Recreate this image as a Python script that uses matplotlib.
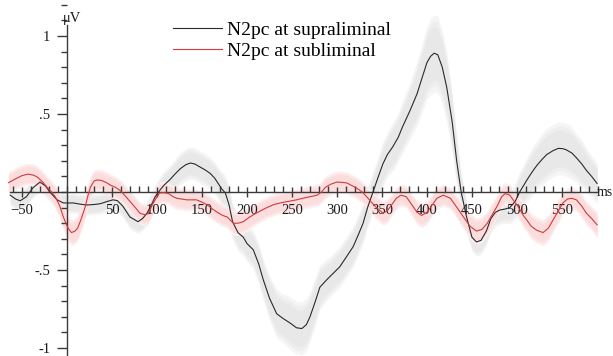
import numpy as np
import matplotlib
matplotlib.use("Agg")
import matplotlib.pyplot as plt
from matplotlib.ticker import MultipleLocator, FixedLocator, FuncFormatter

plt.rcParams['font.family'] = ['Liberation Serif', 'DejaVu Serif']

#----------------------------------------------------
# grand average N2pc waveforms (ms, uV) and standard errors
#----------------------------------------------------
sup_t = [-63, -57, -52, -45, -38, -30, -24, -19, -11, -4,
         7, 15, 22, 30, 37, 45, 51, 56, 62, 70,
         79, 84, 89, 94, 98, 103, 108, 114, 120, 126,
         132, 137, 142, 148, 154, 159, 164, 168, 172, 176,
         180, 184, 190, 196, 200, 207, 213, 218, 225, 233,
         240, 248, 255, 261, 266, 270, 276, 281, 289, 296,
         303, 310, 318, 324, 329, 334, 340, 346, 351, 356,
         362, 368, 373, 381, 389, 395, 400, 404, 408, 412,
         417, 422, 428, 433, 438, 444, 450, 455, 460, 466,
         471, 476, 481, 486, 492, 498, 503, 511, 517, 522,
         528, 533, 540, 546, 551, 555, 561, 566, 572, 577,
         583, 589]
sup_uv = [-0.02, -0.045, -0.056, -0.03, 0.026, 0.064, 0.04, 0.0, -0.05, -0.07,
          -0.07, -0.078, -0.083, -0.08, -0.075, -0.06, -0.05, -0.055, -0.09, -0.16,
          -0.19, -0.17, -0.135, -0.08, -0.03, 0.01, 0.045, 0.077, 0.115, 0.15,
          0.175, 0.186, 0.18, 0.16, 0.14, 0.12, 0.09, 0.055, 0.02, -0.006,
          -0.08, -0.19, -0.26, -0.29, -0.33, -0.37, -0.46, -0.56, -0.68, -0.78,
          -0.81, -0.84, -0.87, -0.875, -0.85, -0.8, -0.7, -0.61, -0.56, -0.52,
          -0.48, -0.42, -0.35, -0.27, -0.2, -0.1, 0.0, 0.1, 0.18, 0.24,
          0.29, 0.35, 0.42, 0.52, 0.63, 0.74, 0.83, 0.87, 0.89, 0.88,
          0.8, 0.67, 0.45, 0.2, 0.0, -0.16, -0.29, -0.32, -0.31, -0.25,
          -0.17, -0.13, -0.115, -0.11, -0.1, -0.06, 0.0, 0.077, 0.13, 0.17,
          0.21, 0.24, 0.265, 0.28, 0.278, 0.27, 0.25, 0.22, 0.18, 0.14,
          0.1, 0.055]
sup_se = [0.05, 0.05, 0.05, 0.05, 0.05, 0.05, 0.05, 0.05, 0.05, 0.05,
          0.05, 0.05, 0.05, 0.05, 0.05, 0.05, 0.05, 0.05, 0.055, 0.06,
          0.06, 0.06, 0.06, 0.06, 0.06, 0.065, 0.07, 0.07, 0.075, 0.08,
          0.08, 0.08, 0.08, 0.08, 0.08, 0.08, 0.08, 0.08, 0.085, 0.085,
          0.09, 0.09, 0.09, 0.09, 0.09, 0.095, 0.1, 0.1, 0.11, 0.12,
          0.12, 0.13, 0.13, 0.13, 0.13, 0.12, 0.12, 0.11, 0.1, 0.1,
          0.1, 0.1, 0.1, 0.1, 0.1, 0.1, 0.1, 0.1, 0.11, 0.11,
          0.12, 0.12, 0.13, 0.14, 0.16, 0.17, 0.18, 0.19, 0.19, 0.19,
          0.18, 0.17, 0.15, 0.12, 0.1, 0.08, 0.07, 0.07, 0.07, 0.07,
          0.07, 0.07, 0.07, 0.07, 0.08, 0.09, 0.1, 0.11, 0.12, 0.12,
          0.13, 0.13, 0.13, 0.13, 0.13, 0.13, 0.13, 0.12, 0.12, 0.11,
          0.1, 0.1]

sub_t = [-65, -57, -50, -43, -37, -33, -27, -22, -17, -13,
         -8, -4, 1, 5, 9, 12, 16, 20, 23, 26,
         30, 33, 38, 44, 48, 54, 59, 64, 70, 76,
         81, 86, 90, 96, 100, 103, 108, 113, 118, 122,
         133, 144, 150, 156, 162, 167, 173, 178, 185, 190,
         196, 203, 212, 222, 230, 237, 246, 255, 262, 270,
         278, 283, 287, 293, 300, 306, 311, 317, 322, 328,
         333, 339, 344, 351, 356, 361, 366, 371, 377, 383,
         389, 394, 400, 405, 411, 418, 426, 431, 437, 443,
         448, 455, 461, 467, 473, 478, 483, 487, 492, 497,
         502, 507, 511, 516, 522, 529, 535, 540, 546, 551,
         556, 561, 566, 572, 577, 583, 589]
sub_uv = [0.06, 0.085, 0.105, 0.115, 0.108, 0.096, 0.065, 0.03, 0.0, -0.03,
          -0.09, -0.16, -0.23, -0.26, -0.25, -0.23, -0.17, -0.1, -0.03, 0.03,
          0.07, 0.077, 0.075, 0.06, 0.045, 0.03, 0.01, -0.02, -0.06, -0.1,
          -0.135, -0.145, -0.14, -0.07, -0.03, -0.006, -0.004, -0.01, -0.03, -0.04,
          -0.05, -0.05, -0.065, -0.083, -0.11, -0.13, -0.15, -0.16, -0.2, -0.2,
          -0.19, -0.16, -0.13, -0.1, -0.08, -0.07, -0.06, -0.05, -0.04, -0.03,
          -0.02, 0.0, 0.03, 0.05, 0.064, 0.062, 0.058, 0.04, 0.025, 0.0,
          -0.03, -0.07, -0.1, -0.135, -0.12, -0.08, -0.04, -0.02, -0.03, -0.08,
          -0.13, -0.15, -0.13, -0.09, -0.04, -0.02, -0.04, -0.08, -0.13, -0.18,
          -0.22, -0.25, -0.24, -0.2, -0.14, -0.09, -0.03, -0.01, -0.02, -0.06,
          -0.1, -0.15, -0.18, -0.22, -0.245, -0.26, -0.23, -0.18, -0.12, -0.07,
          -0.045, -0.04, -0.05, -0.09, -0.135, -0.17, -0.21]
sub_se = [0.055, 0.055, 0.055, 0.055, 0.055, 0.055, 0.055, 0.055, 0.055, 0.06,
          0.06, 0.065, 0.065, 0.065, 0.065, 0.065, 0.06, 0.06, 0.06, 0.055,
          0.055, 0.055, 0.055, 0.055, 0.055, 0.055, 0.055, 0.055, 0.055, 0.055,
          0.055, 0.055, 0.055, 0.055, 0.055, 0.055, 0.055, 0.055, 0.055, 0.055,
          0.055, 0.055, 0.055, 0.055, 0.055, 0.055, 0.055, 0.055, 0.06, 0.06,
          0.06, 0.06, 0.055, 0.055, 0.055, 0.055, 0.055, 0.055, 0.055, 0.055,
          0.055, 0.055, 0.055, 0.055, 0.055, 0.055, 0.055, 0.055, 0.055, 0.055,
          0.055, 0.055, 0.06, 0.06, 0.06, 0.055, 0.055, 0.055, 0.055, 0.055,
          0.06, 0.06, 0.06, 0.055, 0.055, 0.055, 0.055, 0.055, 0.06, 0.06,
          0.065, 0.065, 0.065, 0.06, 0.06, 0.055, 0.055, 0.055, 0.055, 0.055,
          0.06, 0.06, 0.06, 0.065, 0.065, 0.065, 0.065, 0.06, 0.06, 0.055,
          0.055, 0.055, 0.055, 0.06, 0.06, 0.06, 0.065]

labels = ["N2pc at supraliminal", "N2pc at subliminal"]
x_ticks = [-50, 50, 100, 150, 200, 250, 300, 350, 400, 450, 500, 550]
y_ticks = [-1, -0.5, 0.5, 1]


#----------------------------------------------------
# helpers
#----------------------------------------------------
def soft_band(ax, t, m, se, colors, z):
    # solid fills from wide/pale to narrow/dark so the edge fades out
    t, m, se = np.asarray(t), np.asarray(m), np.asarray(se)
    for scale, c in zip([1.3, 1.1, 0.9], colors):
        ax.fill_between(t, m - se * scale, m + se * scale, color=c,
                        lw=0, zorder=z)


def uv_label(v, pos):
    s = f"{v:g}"
    return s.replace("0.", ".")


#----------------------------------------------------
# figure
#----------------------------------------------------
fig = plt.figure(figsize=(6.13, 3.56), dpi=100)
ax = fig.add_axes([0, 0, 1, 1])

soft_band(ax, sup_t, sup_uv, sup_se, ["#f5f5f5", "#eeeeee", "#e8e8e8"], 1)
soft_band(ax, sub_t, sub_uv, sub_se, ["#fdf0f0", "#fce6e6", "#fbdddd"], 1.5)

ax.plot(sup_t, sup_uv, color="#2a2a2a", lw=0.8, zorder=4, label=labels[0])
ax.plot(sub_t, sub_uv, color="#d23a3c", lw=0.8, zorder=4, label=labels[1])

ax.set_xlim(-74.4, 606.7)
ax.set_ylim(-1.051, 1.231)

# axes cross at the origin
for side in ["top", "right"]:
    ax.spines[side].set_visible(False)
ax.spines["left"].set_position(("data", 0))
ax.spines["bottom"].set_position(("data", 0))
ax.spines["left"].set_bounds(-1.05, 1.07)
ax.spines["bottom"].set_bounds(-63, 589)
for side in ["left", "bottom"]:
    ax.spines[side].set_color("#3a3a3a")
    ax.spines[side].set_linewidth(1.0)
    ax.spines[side].set_zorder(3)

ax.xaxis.set_major_locator(FixedLocator(x_ticks))
ax.xaxis.set_minor_locator(FixedLocator(np.arange(-60, 591, 10)))
ax.yaxis.set_major_locator(FixedLocator(y_ticks))
ax.yaxis.set_minor_locator(MultipleLocator(0.1))
ax.yaxis.set_major_formatter(FuncFormatter(uv_label))

ax.tick_params(axis="x", which="major", direction="inout", length=7, width=1.0,
               color="#3a3a3a", pad=5, labelsize=10.5, labelcolor="#1a1a1a")
ax.tick_params(axis="x", which="minor", direction="in", length=4, width=1.0,
               color="#3a3a3a")
ax.tick_params(axis="y", which="major", direction="out", length=7, width=1.0,
               color="#3a3a3a", pad=5, labelsize=10.5, labelcolor="#1a1a1a")
ax.tick_params(axis="y", which="minor", direction="out", length=4, width=1.0,
               color="#3a3a3a")

ax.text(-4.5, 1.115, "\u03bcV", fontsize=10.5, color="#1a1a1a", va="center", ha="left")
ax.text(589, -0.028, "ms", fontsize=10, color="#1a1a1a", va="baseline", ha="left")

ax.legend(loc="upper left", bbox_to_anchor=(0.282, 0.941), frameon=False,
          fontsize=14, handlelength=2.55, handletextpad=0.25,
          labelspacing=0.2, borderpad=0, borderaxespad=0)

fig.savefig("out.png", dpi=100, facecolor="white")
